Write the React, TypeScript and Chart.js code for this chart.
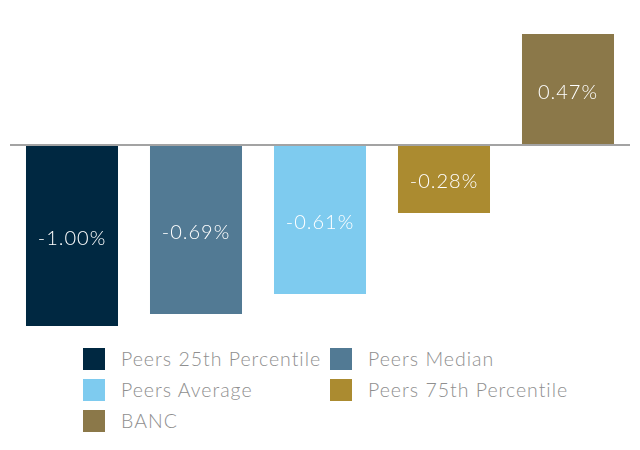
import React, { useEffect, useRef } from "react";
import { Chart, registerables } from "chart.js";

Chart.register(...registerables);

const categories = ["Peers 25th Percentile", "Peers Median", "Peers Average", "Peers 75th Percentile", "BANC"];
// bar heights as drawn in the picture (not proportional to the printed labels)
const barHeights = [-1.0, -0.934, -0.823, -0.376, 0.613];
const valueLabels = ["-1.00%", "-0.69%", "-0.61%", "-0.28%", "0.47%"];
const colors = ["#002841", "#527a94", "#7ecbef", "#ab8b30", "#8b7849"];

const FONT = "Lato, 'Open Sans', sans-serif";

const zeroLinePlugin = {
  id: "zeroLine",
  afterDatasetsDraw(chart: any) {
    const { ctx, chartArea, scales } = chart;
    const y = scales.y.getPixelForValue(0);
    ctx.save();
    ctx.strokeStyle = "#a3a3a3";
    ctx.lineWidth = 2;
    ctx.beginPath();
    ctx.moveTo(chartArea.left, y);
    ctx.lineTo(chartArea.right, y);
    ctx.stroke();
    ctx.restore();
  },
};

const valueLabelPlugin = {
  id: "valueLabels",
  afterDatasetsDraw(chart: any) {
    const { ctx } = chart;
    const meta = chart.getDatasetMeta(0);
    ctx.save();
    ctx.fillStyle = "#ffffff";
    ctx.font = `300 20px ${FONT}`;
    (ctx as any).letterSpacing = "1px";
    ctx.textAlign = "center";
    ctx.textBaseline = "middle";
    meta.data.forEach((bar: any, i: number) => {
      const mid = (bar.y + bar.base) / 2 + 3;
      ctx.fillText(valueLabels[i], bar.x, mid);
    });
    ctx.restore();
  },
};

export default function App() {
  const ref = useRef<HTMLCanvasElement>(null);
  useEffect(() => {
    document.body.style.margin = "0";
    const chart = new Chart(ref.current!, {
      type: "bar",
      data: {
        labels: categories,
        datasets: [
          {
            data: barHeights,
            backgroundColor: colors,
            barPercentage: 0.742,
            categoryPercentage: 1,
          },
        ],
      },
      options: {
        animation: false,
        responsive: false,
        maintainAspectRatio: false,
        layout: { padding: { left: 10, right: 10, top: 34, bottom: 14 } },
        plugins: { legend: { display: false }, tooltip: { enabled: false } },
        scales: {
          x: { display: false },
          y: { display: false, min: -1.0, max: 0.613 },
        },
      },
      plugins: [zeroLinePlugin, valueLabelPlugin],
    });
    return () => chart.destroy();
  }, []);

  const legendPos = [
    { x: 83, y: 348 },
    { x: 330, y: 348 },
    { x: 83, y: 379 },
    { x: 330, y: 379 },
    { x: 83, y: 410 },
  ];

  return (
    <div style={{ position: "relative", width: 640, height: 450, fontFamily: FONT }}>
      <canvas ref={ref} width={640} height={340} style={{ position: "absolute", left: 0, top: 0, width: 640, height: 340 }} />
      {categories.map((c, i) => (
        <div key={c} style={{ position: "absolute", left: legendPos[i].x, top: legendPos[i].y, height: 22, display: "flex", alignItems: "center" }}>
          <div style={{ width: 22, height: 22, background: colors[i] }} />
          <span style={{ marginLeft: 16, fontSize: 19.5, fontWeight: 300, letterSpacing: 1, color: "#8f8f8f", whiteSpace: "nowrap", lineHeight: "22px" }}>{c}</span>
        </div>
      ))}
    </div>
  );
}
